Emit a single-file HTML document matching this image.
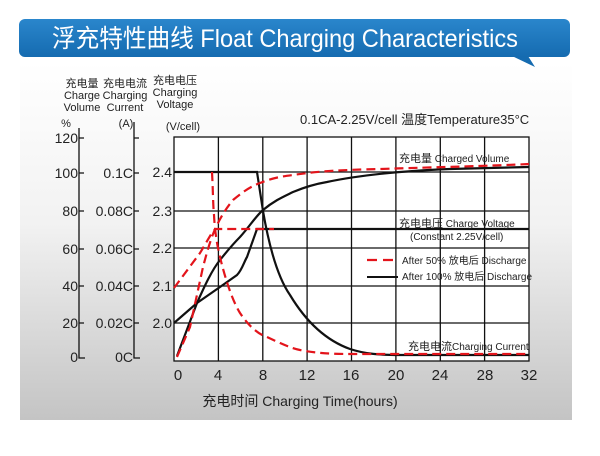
<!DOCTYPE html>
<html><head><meta charset="utf-8"><style>
html,body{margin:0;padding:0;}
body{width:600px;height:451px;overflow:hidden;background:#fff;}
svg text{font-family:"Liberation Sans","Noto Sans CJK SC",sans-serif;}
</style></head><body>
<svg width="600" height="451" viewBox="0 0 600 451" xmlns="http://www.w3.org/2000/svg">
<defs>
<linearGradient id="bg" x1="0" y1="0" x2="0" y2="1">
<stop offset="0" stop-color="#ffffff"/><stop offset="0.45" stop-color="#f2f2f2"/><stop offset="1" stop-color="#c4c4c4"/>
</linearGradient>
<linearGradient id="hb" x1="0" y1="0" x2="0" y2="1">
<stop offset="0" stop-color="#2a86cc"/><stop offset="1" stop-color="#156bb0"/>
</linearGradient>
</defs>
<rect x="20" y="62" width="552" height="358" fill="url(#bg)"/>
<rect x="19" y="19" width="551" height="38" rx="6" fill="url(#hb)"/>
<polygon points="512,56 535,67 528,56" fill="#156bb0"/>
<text x="52" y="47" font-size="25" fill="#fff" textLength="466" lengthAdjust="spacingAndGlyphs">浮充特性曲线 Float Charging Characteristics</text>

<rect x="174" y="137" width="355" height="224" fill="#fff"/>
<g stroke="#111" stroke-width="1.3" fill="none">
<path d="M218.4 137V361M262.8 137V361M307.1 137V361M351.5 137V361M395.9 137V361M440.3 137V361M484.6 137V361"/>
<path d="M174 172H529M174 211H529M174 248H529M174 286H529M174 323H529"/>
<rect x="174" y="137" width="355" height="224"/>
</g>
<g stroke="#111" stroke-width="1.3" fill="none">
<path d="M79 128V358H85M79 138H84M79 173H84M79 211H84M79 249H84M79 286H84M79 323H84"/>
<path d="M134 122V358H140M134 138H139M134 173H139M134 211H139M134 249H139M134 286H139M134 323H139"/>
</g>
<g font-size="14" fill="#222" text-anchor="end">
<text x="78" y="143">120</text><text x="78" y="178">100</text><text x="78" y="216">80</text><text x="78" y="254">60</text><text x="78" y="291">40</text><text x="78" y="328">20</text><text x="78" y="362">0</text>
<text x="133" y="178">0.1C</text><text x="133" y="216">0.08C</text><text x="133" y="254">0.06C</text><text x="133" y="291">0.04C</text><text x="133" y="328">0.02C</text><text x="133" y="362">0C</text>
<text x="172" y="177">2.4</text><text x="172" y="216">2.3</text><text x="172" y="253">2.2</text><text x="172" y="291">2.1</text><text x="172" y="328">2.0</text>
</g>
<g font-size="15" fill="#222" text-anchor="middle">
<text x="178" y="380">0</text><text x="218" y="380">4</text><text x="263" y="380">8</text><text x="307" y="380">12</text><text x="351" y="380">16</text><text x="396" y="380">20</text><text x="440" y="380">24</text><text x="485" y="380">28</text><text x="529" y="380">32</text>
</g>
<text x="300" y="406" font-size="14" fill="#222" text-anchor="middle">充电时间 Charging Time(hours)</text>
<g font-size="11" fill="#222" text-anchor="middle">
<text x="82" y="87">充电量</text><text x="82" y="99">Charge</text><text x="82" y="111">Volume</text>
<text x="125" y="87">充电电流</text><text x="125" y="99">Charging</text><text x="125" y="111">Current</text>
<text x="175" y="84">充电电压</text><text x="175" y="96">Charging</text><text x="175" y="108">Voltage</text>
<text x="66" y="127">%</text><text x="126" y="127">(A)</text><text x="183" y="130">(V/cell)</text>
</g>
<text x="300" y="124" font-size="13" fill="#222">0.1CA-2.25V/cell  温度Temperature35°C</text>

<g stroke="#111" stroke-width="2.2" fill="none">
<path d="M174 172H257L263 211C268 240 276 275 290 295C305 320 325 340 350 349C365 354 380 355 400 355H529"/>
<path d="M174 323L197 303L220 287L237 275C242 270 244 262 247 257L257 229H529"/>
<path d="M177 356L197 303C205 285 212 270 220 260C228 250 233 244 240 237C250 226 255 217 263 210C275 200 285 196 293 192C305 187 315 184 327 182C360 175 400 171 450 169C480 168 505 167.5 529 167"/>
</g>
<g stroke="#e3141b" stroke-width="2.2" fill="none" stroke-dasharray="9,5">
<path d="M174 288L200 253L213 231L216 229H274"/>
<path d="M212 172C213 190 213 205 214 215C215 235 218 250 222 265C226 280 232 300 240 313C250 328 260 335 267 337C280 343 290 348 300 350C315 353 330 354 350 354H529"/>
<path d="M177 357L190 327L203 267C208 248 212 235 217 225C223 213 228 206 233 200C245 190 252 186 260 183C275 177 285 176 293 175C320 171 340 170 380 169C440 167 490 166 529 164"/>
</g>
<g font-size="10" fill="#222">
<text x="399" y="162"><tspan font-size="11">充电量</tspan> Charged Volume</text>
<text x="399" y="227"><tspan font-size="11">充电电压</tspan> Charge Voltage</text>
<text x="410" y="240">(Constant 2.25V/cell)</text>
<text x="402" y="264">After 50%  放电后 Discharge</text>
<text x="402" y="280">After 100%  放电后 Discharge</text>
<text x="408" y="350"><tspan font-size="11">充电电流</tspan>Charging Current</text>
</g>
<path d="M367 260H398" stroke="#e3141b" stroke-width="2.2" stroke-dasharray="10,6"/>
<path d="M367 277H398" stroke="#111" stroke-width="2"/>
</svg>
</body></html>
